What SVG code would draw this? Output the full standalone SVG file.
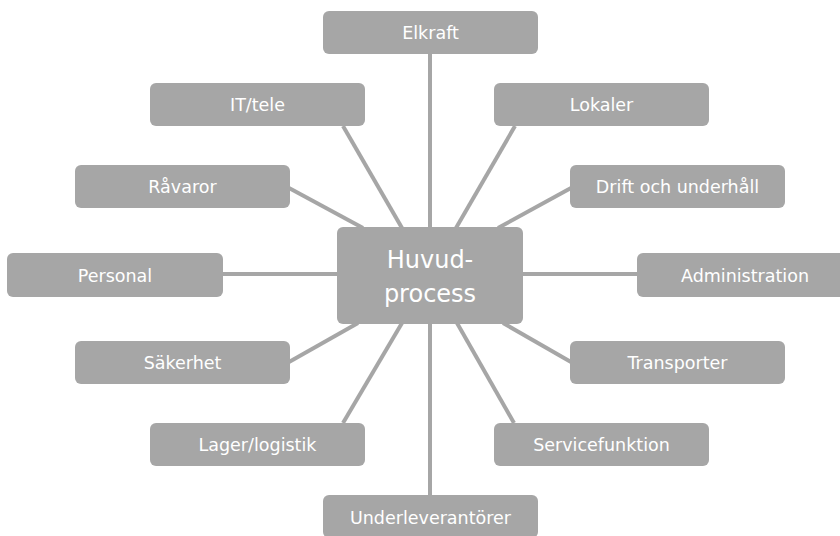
<svg xmlns="http://www.w3.org/2000/svg" width="840" height="536" viewBox="0 0 840 536">
<style>
.box{fill:#a6a6a6}
.lbl{fill:#ffffff;font-family:"DejaVu Sans",sans-serif;font-size:17.5px;text-anchor:middle}
.big{fill:#ffffff;font-family:"DejaVu Sans",sans-serif;font-size:24px;text-anchor:middle}
.con line{stroke:#a6a6a6;stroke-width:4}
</style>
<rect width="840" height="536" fill="#ffffff"/>
<g id="connectors" class="con">
<line x1="430" y1="54" x2="430" y2="228"/>
<line x1="343" y1="126" x2="402" y2="228"/>
<line x1="515" y1="126" x2="456" y2="228"/>
<line x1="289" y1="188" x2="363" y2="228"/>
<line x1="571" y1="188" x2="498" y2="228"/>
<line x1="223" y1="274" x2="338" y2="274"/>
<line x1="522" y1="274" x2="637" y2="274"/>
<line x1="289" y1="362" x2="358" y2="323"/>
<line x1="571" y1="362" x2="503" y2="323"/>
<line x1="343" y1="423" x2="402" y2="323"/>
<line x1="514" y1="423" x2="457" y2="323"/>
<line x1="430" y1="323" x2="430" y2="495"/>
</g>
<g id="huvudprocess"><rect class="box" x="337" y="227" width="186" height="97" rx="6"/><text class="big" x="430" y="268">Huvud-</text><text class="big" x="430" y="302">process</text></g>
<g id="elkraft"><rect class="box" x="323" y="11" width="215" height="43" rx="6"/><text class="lbl" x="430.5" y="39">Elkraft</text></g>
<g id="it-tele"><rect class="box" x="150" y="83" width="215" height="43" rx="6"/><text class="lbl" x="257.5" y="111">IT/tele</text></g>
<g id="lokaler"><rect class="box" x="494" y="83" width="215" height="43" rx="6"/><text class="lbl" x="601.5" y="111">Lokaler</text></g>
<g id="ravaror"><rect class="box" x="75" y="165" width="215" height="43" rx="6"/><text class="lbl" x="182.5" y="193">Råvaror</text></g>
<g id="drift"><rect class="box" x="570" y="165" width="215" height="43" rx="6"/><text class="lbl" x="677.5" y="193">Drift och underhåll</text></g>
<g id="personal"><rect class="box" x="7" y="253" width="216" height="44" rx="6"/><text class="lbl" x="115" y="282">Personal</text></g>
<g id="administration"><rect class="box" x="637" y="253" width="216" height="44" rx="6"/><text class="lbl" x="745" y="282">Administration</text></g>
<g id="sakerhet"><rect class="box" x="75" y="341" width="215" height="43" rx="6"/><text class="lbl" x="182.5" y="369">Säkerhet</text></g>
<g id="transporter"><rect class="box" x="570" y="341" width="215" height="43" rx="6"/><text class="lbl" x="677.5" y="369">Transporter</text></g>
<g id="lager"><rect class="box" x="150" y="423" width="215" height="43" rx="6"/><text class="lbl" x="257.5" y="451">Lager/logistik</text></g>
<g id="servicefunktion"><rect class="box" x="494" y="423" width="215" height="43" rx="6"/><text class="lbl" x="601.5" y="451">Servicefunktion</text></g>
<g id="underleverantorer"><rect class="box" x="323" y="495" width="215" height="43" rx="6"/><text class="lbl" x="430.5" y="524">Underleverantörer</text></g>
</svg>
